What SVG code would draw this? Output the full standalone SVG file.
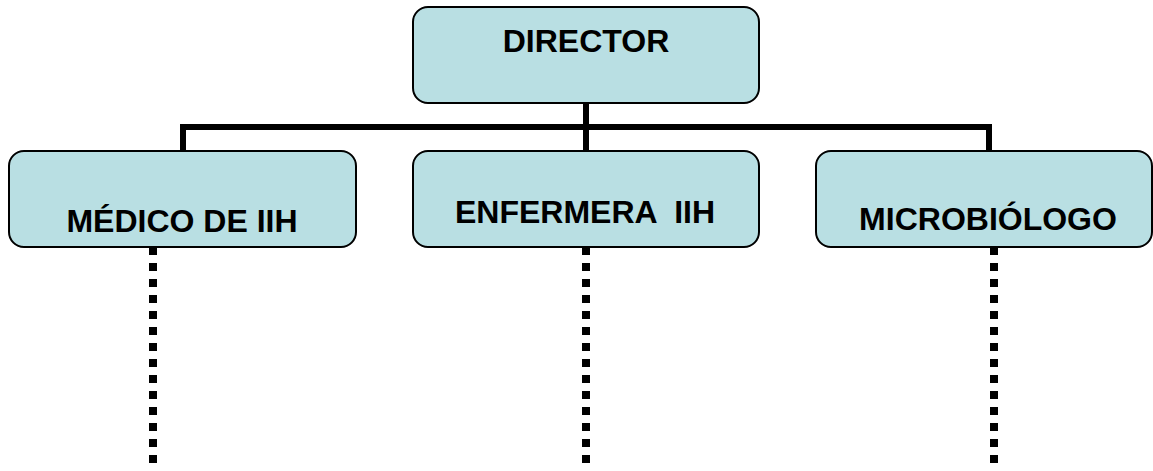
<svg xmlns="http://www.w3.org/2000/svg" width="1153" height="471" viewBox="0 0 1153 471">
<style>
.box{fill:#B9DFE3;stroke:#000;stroke-width:2}
.lbl{font-family:"Liberation Sans",Arial,sans-serif;font-weight:bold;font-size:32px;fill:#000;text-anchor:middle;white-space:pre}
.solid{stroke:#000;stroke-width:6;fill:none}
.dot{stroke:#000;stroke-width:8;fill:none;stroke-dasharray:8 8}
</style>
<rect width="1153" height="471" fill="#fff"/>
<g id="connectors">
<path class="solid" d="M586 103V127M180 127H992M183 127V151M586 127V151M989 127V151"/>
<path class="dot" d="M153 247V464"/>
<path class="dot" d="M586 247V464"/>
<path class="dot" d="M994 247V464"/>
</g>
<g id="director">
<rect class="box" x="413" y="7" width="346" height="96" rx="15"/>
<text class="lbl" x="586" y="52">DIRECTOR</text>
</g>
<g id="medico">
<rect class="box" x="9" y="151" width="347" height="96" rx="15"/>
<text class="lbl" x="182" y="232">MÉDICO DE IIH</text>
</g>
<g id="enfermera">
<rect class="box" x="413" y="151" width="346" height="96" rx="15"/>
<text class="lbl" x="585" y="223" xml:space="preserve">ENFERMERA  IIH</text>
</g>
<g id="microbiologo">
<rect class="box" x="816" y="151" width="336" height="96" rx="15"/>
<text class="lbl" x="988" y="230">MICROBIÓLOGO</text>
</g>
</svg>
